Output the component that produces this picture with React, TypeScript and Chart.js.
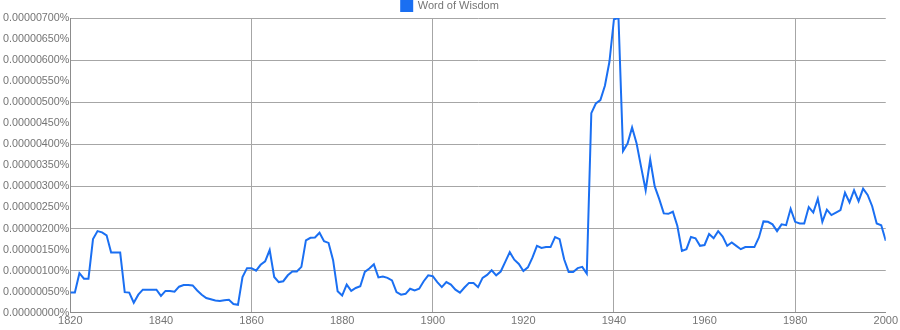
import React, { useEffect, useRef } from "react";
import { Chart, registerables } from "chart.js";

Chart.register(...registerables);

const seriesLabel = "Word of Wisdom";
const startYear = 1820;
const endYear = 2000;
// values in units of 0.00000001% (i.e. 100 = 0.00000100%)
const values1820s = [48, 48, 94, 81, 81, 175, 194, 191, 184, 143];
const values1830s = [143, 143, 49, 48, 24, 43, 55, 55, 55, 55];
const values1840s = [40, 52, 52, 50, 62, 66, 66, 65, 53, 43];
const values1850s = [35, 32, 29, 28, 30, 31, 21, 19, 85, 106];
const values1860s = [106, 100, 114, 122, 149, 85, 73, 75, 89, 98];
const values1870s = [98, 109, 172, 178, 179, 190, 170, 166, 125, 51];
const values1880s = [41, 67, 52, 59, 63, 97, 105, 115, 84, 86];
const values1890s = [83, 77, 49, 43, 45, 57, 53, 57, 75, 89];
const values1900s = [87, 73, 61, 73, 67, 55, 48, 60, 71, 71];
const values1910s = [61, 83, 90, 101, 89, 98, 121, 144, 126, 116];
const values1920s = [99, 108, 131, 159, 154, 156, 156, 180, 175, 127];
const values1930s = [97, 97, 106, 109, 93, 474, 497, 505, 539, 596];
const values1940s = [697, 700, 384, 402, 440, 402, 346, 291, 364, 300];
const values1950s = [270, 236, 235, 240, 206, 147, 151, 180, 177, 159];
const values1960s = [161, 187, 177, 194, 181, 159, 167, 159, 151, 156];
const values1970s = [156, 156, 179, 217, 216, 210, 194, 210, 208, 247];
const values1980s = [216, 212, 212, 251, 238, 271, 216, 245, 232, 238];
const values1990s = [244, 285, 262, 291, 265, 295, 280, 253, 212, 208];
const values2000s = [171];

const allValues = [
  ...values1820s, ...values1830s, ...values1840s, ...values1850s, ...values1860s,
  ...values1870s, ...values1880s, ...values1890s, ...values1900s, ...values1910s,
  ...values1920s, ...values1930s, ...values1940s, ...values1950s, ...values1960s,
  ...values1970s, ...values1980s, ...values1990s, ...values2000s,
];

const yMax = 700;
const yStep = 50;
const xStep = 20;

const FONT = "'Liberation Sans', Arial, sans-serif";
const LINE_COLOR = "#1a6ff2";
const TEXT_COLOR = "#757575";
const GRID_COLOR = "#a6a6a6";
const AXIS_COLOR = "#8c8c8c";

export default function App() {
  const canvasRef = useRef<HTMLCanvasElement | null>(null);

  useEffect(() => {
    const canvas = canvasRef.current;
    if (!canvas) return;
    const data = allValues.map((v, i) => ({ x: startYear + i, y: v }));
    const chart = new Chart(canvas, {
      type: "line",
      data: {
        datasets: [
          {
            label: seriesLabel,
            data,
            borderColor: LINE_COLOR,
            backgroundColor: LINE_COLOR,
            borderWidth: 2,
            pointRadius: 0,
            tension: 0,
            fill: false,
          },
        ],
      },
      options: {
        animation: false,
        responsive: true,
        maintainAspectRatio: false,
        layout: { padding: { left: 2, right: 2, top: 0, bottom: 0 } },
        plugins: {
          tooltip: { enabled: false },
          legend: {
            display: true,
            position: "top",
            maxHeight: 18,
            labels: {
              boxWidth: 11,
              boxHeight: 11,
              padding: 0,
              color: TEXT_COLOR,
              font: { family: FONT, size: 11 },
            },
          },
        },
        scales: {
          x: {
            type: "linear",
            min: startYear,
            max: endYear,
            ticks: {
              stepSize: xStep,
              color: TEXT_COLOR,
              font: { family: FONT, size: 11 },
              padding: 2,
              maxRotation: 0,
              callback: (v: any) => String(v),
            },
            grid: {
              drawTicks: false,
              color: (ctx: any) =>
                ctx.tick && Math.round(ctx.tick.value) % 40 === 20 ? GRID_COLOR : "rgba(0,0,0,0)",
              lineWidth: 1,
            },
            border: { display: true, color: AXIS_COLOR, width: 1 },
          },
          y: {
            type: "linear",
            min: 0,
            max: yMax,
            ticks: {
              stepSize: yStep,
              color: TEXT_COLOR,
              font: { family: FONT, size: 10.75 },
              padding: 1,
              callback: (v: any) => (Number(v) * 1e-8).toFixed(8) + "%",
            },
            grid: {
              drawTicks: false,
              color: (ctx: any) =>
                ctx.tick && Math.round(ctx.tick.value) % 100 === 0 ? GRID_COLOR : "rgba(0,0,0,0)",
              lineWidth: 1,
            },
            border: { display: true, color: AXIS_COLOR, width: 1 },
          },
        },
      },
    });
    return () => chart.destroy();
  }, []);

  return (
    <div style={{ position: "absolute", left: 0, top: 0, width: 900, height: 330, background: "#fff" }}>
      <canvas ref={canvasRef} />
    </div>
  );
}
